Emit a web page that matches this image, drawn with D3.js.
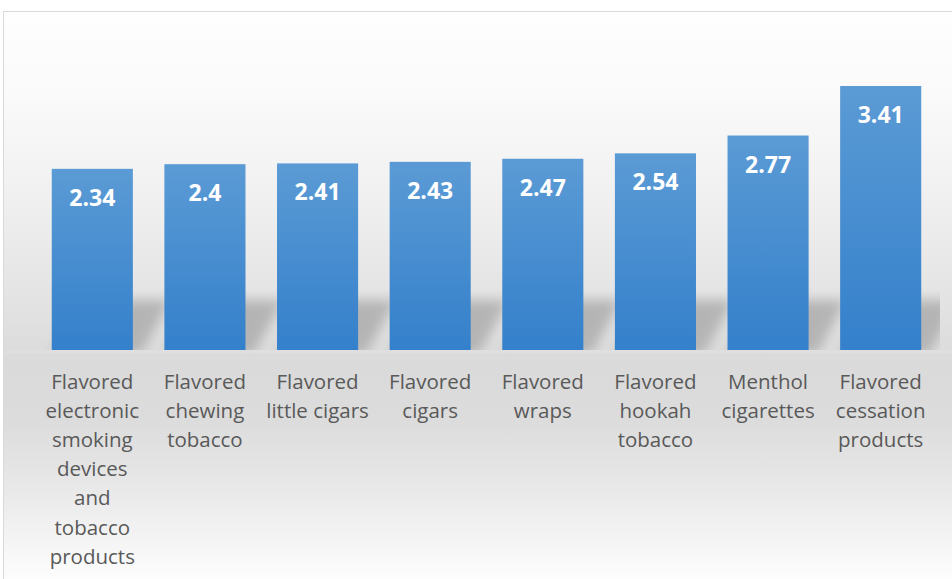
<!DOCTYPE html>
<html>
<head>
<meta charset="utf-8">
<script src="https://cdn.jsdelivr.net/npm/d3@7"></script>
<style>
  body { margin: 0; background: #fff; }
  svg { display: block; }
</style>
</head>
<body>
<div id="chart"></div>
<script>
// Data
const categories = [
  "Flavored electronic smoking devices and tobacco products",
  "Flavored chewing tobacco",
  "Flavored little cigars",
  "Flavored cigars",
  "Flavored wraps",
  "Flavored hookah tobacco",
  "Menthol cigarettes",
  "Flavored cessation products"
];
// how each tick label wraps
const tickLines = [
  ["Flavored", "electronic", "smoking", "devices", "and", "tobacco", "products"],
  ["Flavored", "chewing", "tobacco"],
  ["Flavored", "little cigars"],
  ["Flavored", "cigars"],
  ["Flavored", "wraps"],
  ["Flavored", "hookah", "tobacco"],
  ["Menthol", "cigarettes"],
  ["Flavored", "cessation", "products"]
];
const values = [2.34, 2.4, 2.41, 2.43, 2.47, 2.54, 2.77, 3.41];

// Dimensions
const width = 952,
      height = 579;
const baseY = 350;

const svg = d3.select("#chart")
  .append("svg")
  .attr("width", width)
  .attr("height", height);

const defs = svg.append("defs");

// Background gradient of the chart area
const bg = defs.append("linearGradient")
  .attr("id", "bg")
  .attr("x1", 0).attr("x2", 0)
  .attr("gradientUnits", "userSpaceOnUse")
  .attr("y1", 11).attr("y2", 579);
[[0, "#fefefe"], [0.15, "#fafafa"], [0.33, "#f0f0f0"], [0.5, "#e4e4e4"],
 [0.62, "#dadada"], [0.72, "#dcdcdc"], [0.82, "#e6e6e6"], [1, "#fdfdfd"]]
  .forEach(s => bg.append("stop").attr("offset", s[0]).attr("stop-color", s[1]));

// Bar gradient
const barGrad = defs.append("linearGradient")
  .attr("id", "barGrad")
  .attr("x1", 0).attr("y1", 0).attr("x2", 0).attr("y2", 1);
barGrad.append("stop").attr("offset", 0).attr("stop-color", "#5b9bd5");
barGrad.append("stop").attr("offset", 1).attr("stop-color", "#3480cb");

defs.append("filter")
  .attr("id", "blur")
  .attr("x", "-30%").attr("y", "-60%").attr("width", "160%").attr("height", "220%")
  .append("feGaussianBlur")
  .attr("stdDeviation", 6);

defs.append("clipPath")
  .attr("id", "plotClip")
  .append("rect")
  .attr("x", 4).attr("y", 11)
  .attr("width", 936).attr("height", baseY - 11);

// Frame
svg.append("rect")
  .attr("x", 3.5).attr("y", 11.5)
  .attr("width", 980).attr("height", 620)
  .attr("fill", "url(#bg)")
  .attr("stroke", "#d9d9d9")
  .attr("stroke-width", 1);

// light floor edge under the baseline
svg.append("rect")
  .attr("x", 4).attr("y", baseY)
  .attr("width", 948).attr("height", 3)
  .attr("fill", "#dfdfdf");

// Scales
const x = d3.scaleBand()
  .domain(categories)
  .range([36, 937])
  .paddingInner(0.28)
  .paddingOuter(0.14);

const y = d3.scaleLinear()
  .domain([0, 4])
  .range([baseY, 40.3]);

const data = categories.map((c, i) => ({ cat: c, value: values[i], lines: tickLines[i] }));

// Shadows
svg.append("g")
  .attr("clip-path", "url(#plotClip)")
  .selectAll("path")
  .data(data)
  .enter()
  .append("path")
  .attr("d", d => {
    const x0 = x(d.cat), x1 = x0 + x.bandwidth();
    return `M${x0},${baseY + 4} L${x1 + 8},${baseY + 4} L${x1 + 38},${baseY - 50} L${x0 + 30},${baseY - 50} Z`;
  })
  .attr("fill", "#b0b0b0")
  .attr("opacity", 0.9)
  .attr("filter", "url(#blur)");

// Bars
svg.selectAll(".bar")
  .data(data)
  .enter()
  .append("rect")
  .attr("class", "bar")
  .attr("x", d => x(d.cat))
  .attr("y", d => y(d.value))
  .attr("width", x.bandwidth())
  .attr("height", d => y(0) - y(d.value))
  .attr("fill", "url(#barGrad)");

// Value labels
svg.selectAll(".val")
  .data(data)
  .enter()
  .append("text")
  .attr("class", "val")
  .attr("x", d => x(d.cat) + x.bandwidth() / 2)
  .attr("y", d => y(d.value) + 37)
  .attr("text-anchor", "middle")
  .style("font-family", "'Open Sans', sans-serif")
  .style("font-weight", "bold")
  .style("font-size", "23px")
  .style("fill", "#ffffff")
  .text(d => d.value);

// Category labels
const ticks = svg.selectAll(".tick-label")
  .data(data)
  .enter()
  .append("text")
  .attr("class", "tick-label")
  .attr("text-anchor", "middle")
  .style("font-family", "'Open Sans', sans-serif")
  .style("font-size", "20.5px")
  .style("fill", "#595959");

ticks.selectAll("tspan")
  .data(d => d.lines.map(l => ({ line: l, cx: x(d.cat) + x.bandwidth() / 2 })))
  .enter()
  .append("tspan")
  .attr("x", d => d.cx)
  .attr("y", (d, i) => 389 + i * 29.1)
  .text(d => d.line);
</script>
</body>
</html>
